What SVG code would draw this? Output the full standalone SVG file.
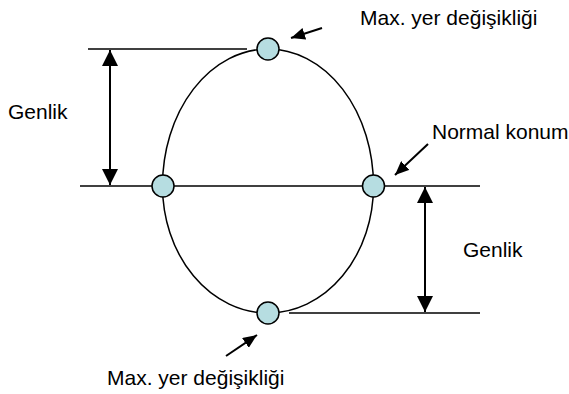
<svg xmlns="http://www.w3.org/2000/svg" width="569" height="394" viewBox="0 0 569 394">
<style>
.ln{stroke:#000;stroke-width:1.5;fill:none}
.dim{stroke:#000;stroke-width:2;fill:none}
.pt{fill:#b6dde1;stroke:#000;stroke-width:1.5}
.t{font-family:"Liberation Sans",Arial,sans-serif;font-size:21px;fill:#000}
</style>
<defs>
<marker id="big" viewBox="0 0 16 16" refX="16" refY="8" markerWidth="16" markerHeight="16" markerUnits="userSpaceOnUse" orient="auto-start-reverse">
<path d="M0,0 L16,8 L0,16 Z" fill="#000"/>
</marker>
<marker id="sm" viewBox="0 0 14 12" refX="14" refY="6" markerWidth="14" markerHeight="12" markerUnits="userSpaceOnUse" orient="auto">
<path d="M0,0 L14,6 L0,12 Z" fill="#000"/>
</marker>
</defs>
<g id="connectors">
<line class="ln" x1="88" y1="49" x2="247" y2="49"/>
<line class="ln" x1="80" y1="186" x2="480" y2="186"/>
<line class="ln" x1="289" y1="313" x2="480" y2="313"/>
<path class="ln" d="M162.5,186 A105.5,137 0 0 1 373.5,186"/>
<path class="ln" d="M162.5,186 A105.5,127 0 0 0 373.5,186"/>
<line class="dim" x1="110" y1="50" x2="110" y2="185" marker-start="url(#big)" marker-end="url(#big)"/>
<line class="dim" x1="425" y1="187" x2="425" y2="312" marker-start="url(#big)" marker-end="url(#big)"/>
<line class="dim" x1="322" y1="28" x2="291" y2="38" marker-end="url(#sm)"/>
<line class="dim" x1="428" y1="144" x2="395" y2="175" marker-end="url(#sm)"/>
<line class="dim" x1="226" y1="356" x2="257" y2="335" marker-end="url(#sm)"/>
</g>
<g id="n-top"><circle class="pt" cx="268" cy="49" r="11"/></g>
<g id="n-left"><circle class="pt" cx="163" cy="186" r="11"/></g>
<g id="n-right"><circle class="pt" cx="373.5" cy="186" r="11"/></g>
<g id="n-bottom"><circle class="pt" cx="268" cy="313" r="11"/></g>
<g id="labels">
<text class="t" x="360" y="25">Max. yer değişikliği</text>
<text class="t" x="8" y="119">Genlik</text>
<text class="t" x="432" y="139">Normal konum</text>
<text class="t" x="463" y="257">Genlik</text>
<text class="t" x="107" y="385">Max. yer değişikliği</text>
</g>
</svg>
